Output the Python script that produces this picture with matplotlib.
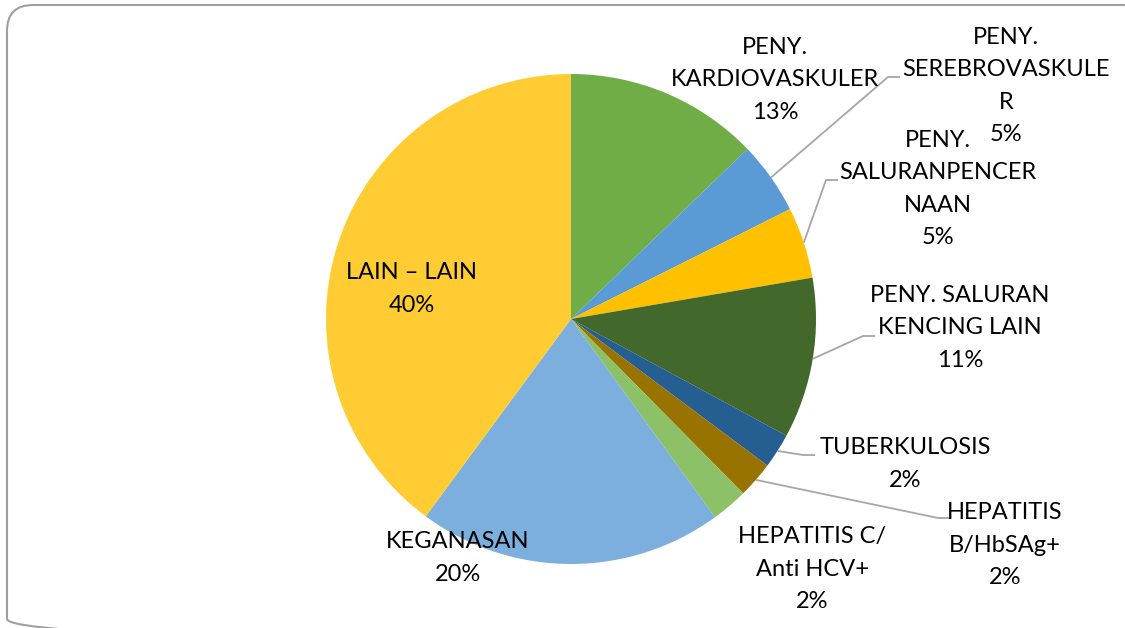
import numpy as np
import matplotlib
matplotlib.use('Agg')
import matplotlib.pyplot as plt
from matplotlib.patches import FancyBboxPatch

# data (clockwise from 12 o'clock)
categories = ['PENY.\nKARDIOVASKULER', 'PENY.\nSEREBROVASKULE\nR',
              'PENY.\nSALURANPENCER\nNAAN', 'PENY. SALURAN\nKENCING LAIN',
              'TUBERKULOSIS', 'HEPATITIS\nB/HbSAg+', 'HEPATITIS C/\nAnti HCV+',
              'KEGANASAN', 'LAIN \u2013 LAIN']
shares = [12.8, 4.8, 4.7, 10.6, 2.3, 2.4, 2.4, 20.1, 39.9]
colors = ['#70AD47', '#5B9BD5', '#FFC000', '#43682B', '#255E91',
          '#997300', '#8CC168', '#7CAFDD', '#FFCD33']

# label placement in pixels (top-left origin)
label_pos = [(775, 80), (1006, 86), (938, 189), (960, 328), (905, 464),
             (1005, 545), (812, 569), (458, 558), (412, 289)]
# leader lines: slice index -> elbow, end
leaders = {1: [(888, 77), (900, 77)], 2: [(826, 180), (838, 180)],
           3: [(863, 336), (875, 336)], 4: [(803, 455), (815, 455)],
           5: [(938, 518), (950, 518)]}

plt.rcParams['font.family'] = ['Lato', 'DejaVu Sans']

W, H = 1125, 628
cx, cy, r = 571, 319, 245

fig = plt.figure(figsize=(W / 100, H / 100), dpi=100)
ax = fig.add_axes([0, 0, 1, 1])

wedges, _ = ax.pie(shares, colors=colors, startangle=-90, counterclock=True,
                   center=(cx, cy), radius=r, wedgeprops={'linewidth': 0})
ax.set_xlim(0, W)
ax.set_ylim(H, 0)
ax.axis('off')

for i, (name, v) in enumerate(zip(categories, shares)):
    x, y = label_pos[i]
    ax.text(x, y, '%s\n%d%%' % (name, round(v)), ha='center', va='center',
            fontsize=17, linespacing=1.68, color='#000000')

for i, pts in leaders.items():
    w = wedges[i]
    mid = np.deg2rad((w.theta1 + w.theta2) / 2)
    sx, sy = cx + r * np.cos(mid), cy + r * np.sin(mid)
    xs = [sx] + [p[0] for p in pts]
    ys = [sy] + [p[1] for p in pts]
    ax.plot(xs, ys, color='#A6A6A6', lw=1.3, solid_capstyle='butt')

frame = FancyBboxPatch((7, 5), 1140, 640, boxstyle='round,pad=0,rounding_size=26',
                       ec='#A0A0A0', fc='none', lw=1.5, clip_on=False)
ax.add_patch(frame)

fig.savefig('out.png', dpi=100)
